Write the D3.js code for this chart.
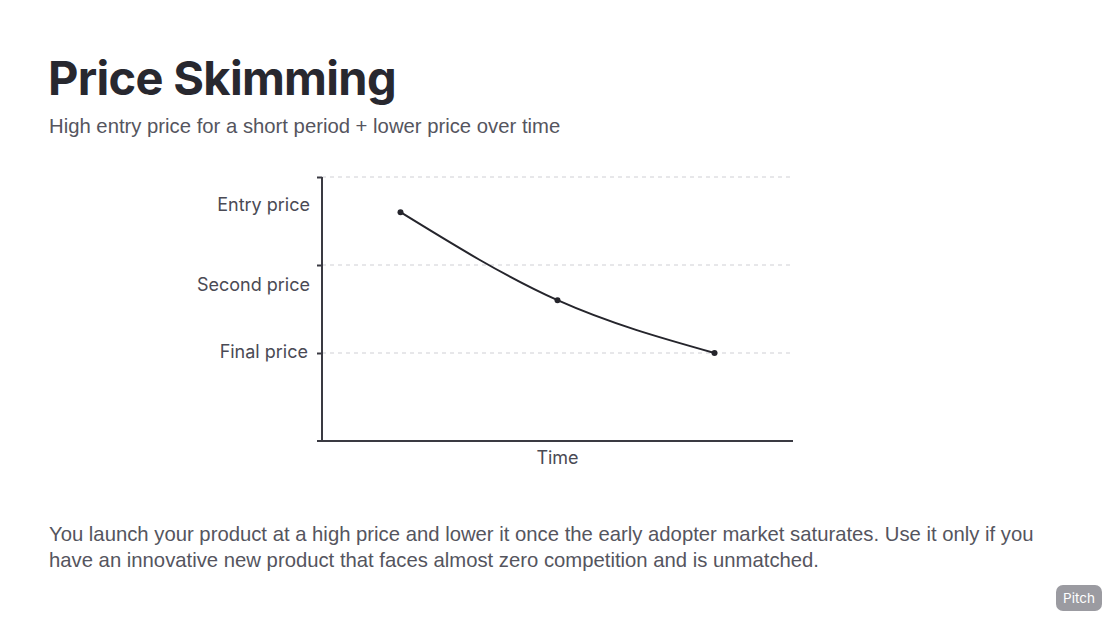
<!DOCTYPE html>
<html><head><meta charset="utf-8">
<script src="https://cdn.jsdelivr.net/npm/d3@7"></script>
<style>
html,body{margin:0;padding:0;background:#fff;}
svg{display:block;font-family:Inter, "Noto Sans", sans-serif;}
</style></head>
<body>
<svg id="chart" width="1116" height="618"></svg>
<script>
const title = "Price Skimming";
const subtitle = "High entry price for a short period + lower price over time";
const bodyLines = [
  "You launch your product at a high price and lower it once the early adopter market saturates. Use it only if you",
  "have an innovative new product that faces almost zero competition and is unmatched."
];
const priceLevels = ["Final price", "Second price", "Entry price"];
const tickValues = [1, 2, 3];
const timePoints = [0.5, 1.5, 2.5];
const priceValues = [2.6, 1.6, 1.0];
const xTitle = "Time";

const svg = d3.select("#chart");
const ink = "#28282f";
const sans = "'Liberation Sans', Arial, sans-serif";

svg.append("text").attr("x", 48).attr("y", 95)
  .attr("font-size", 47).attr("font-weight", 700).attr("fill", ink)
  .attr("letter-spacing", -0.7).text(title);
svg.append("text").attr("x", 49).attr("y", 133).attr("font-family", sans)
  .attr("font-size", 20.3).attr("fill", "#55555e").text(subtitle);

const x = d3.scaleLinear().domain([0, 3]).range([322, 793]);
const y = d3.scaleLinear().domain([0, 3]).range([441, 177]);

// gridlines
svg.append("g").selectAll("line").data(tickValues).join("line")
  .attr("x1", x(0)).attr("x2", 790)
  .attr("y1", d => y(d)).attr("y2", d => y(d))
  .attr("stroke", "#cfcfd4").attr("stroke-width", 1).attr("stroke-dasharray", "4,4");

// y axis
const yAxis = svg.append("g").attr("transform", `translate(${x(0)},0)`)
  .call(d3.axisLeft(y).tickValues(tickValues).tickSize(5).tickFormat(d => priceLevels[d - 1]));
yAxis.select(".domain").attr("d", `M0,${y(3)}V${y(0)}`).attr("stroke", "#3a3a42").attr("stroke-width", 2);
yAxis.selectAll(".tick line").attr("stroke", "#3a3a42").attr("stroke-width", 2);
const labelShift = {1: -2, 2: 19, 3: 27};
yAxis.selectAll(".tick text")
  .attr("x", d => d === 1 ? -14 : -12)
  .attr("dy", d => (labelShift[d] + 6) + "px")
  .attr("font-family", "Inter, sans-serif").attr("font-size", 18).attr("fill", "#4a4a54");

// x axis
svg.append("line").attr("x1", x(0) - 5).attr("x2", x(3))
  .attr("y1", y(0)).attr("y2", y(0)).attr("stroke", "#3a3a42").attr("stroke-width", 2);
svg.append("text").attr("x", x(1.5)).attr("y", 464).attr("text-anchor", "middle")
  .attr("font-size", 18).attr("fill", "#4a4a54").text(xTitle);

const pts = timePoints.map((t, i) => [t, priceValues[i]]);
svg.append("path").datum(pts)
  .attr("d", d3.line().x(d => x(d[0])).y(d => y(d[1])).curve(d3.curveNatural))
  .attr("fill", "none").attr("stroke", "#25252c").attr("stroke-width", 2);
svg.append("g").selectAll("circle").data(pts).join("circle")
  .attr("cx", d => x(d[0])).attr("cy", d => y(d[1])).attr("r", 3).attr("fill", "#25252c");

svg.append("g").selectAll("text").data(bodyLines).join("text")
  .attr("x", 49).attr("y", (d, i) => 541 + i * 26).attr("font-family", sans)
  .attr("font-size", 20.3).attr("fill", "#55555e").text(d => d);

// badge
const badge = svg.append("g");
badge.append("rect").attr("x", 1056).attr("y", 585).attr("width", 46).attr("height", 26)
  .attr("rx", 7).attr("fill", "#9b9ba1");
badge.append("text").attr("x", 1079).attr("y", 603).attr("text-anchor", "middle")
  .attr("font-size", 13.5).attr("fill", "#fff").text("Pitch");
</script>
</body></html>
